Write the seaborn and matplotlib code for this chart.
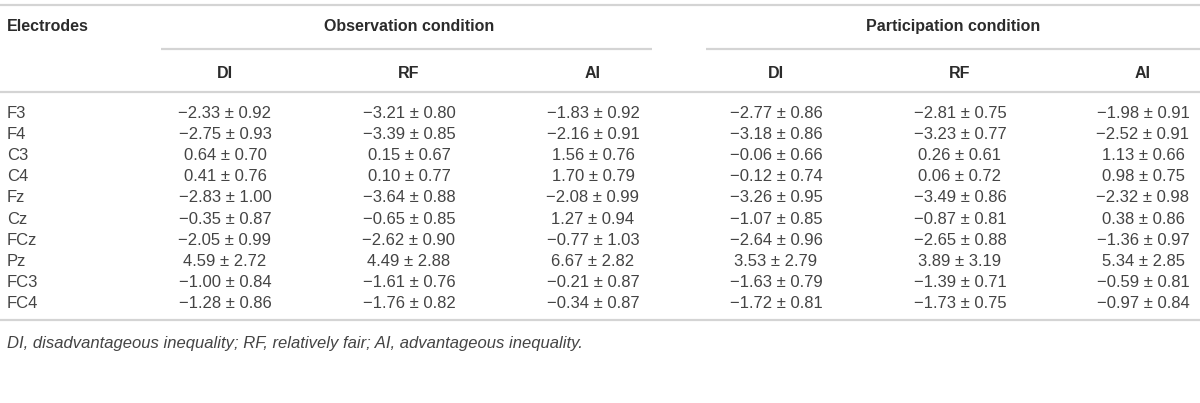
import pandas as pd
import matplotlib.pyplot as plt
import seaborn as sns

# Datos de la tabla (media ± DE)
electrodos = ['F3', 'F4', 'C3', 'C4', 'Fz', 'Cz', 'FCz', 'Pz', 'FC3', 'FC4']
condiciones = ['Observation condition', 'Participation condition']
subcols = ['DI', 'RF', 'AI']

obs_di_m = [-2.33, -2.75, 0.64, 0.41, -2.83, -0.35, -2.05, 4.59, -1.00, -1.28]
obs_di_sd = [0.92, 0.93, 0.70, 0.76, 1.00, 0.87, 0.99, 2.72, 0.84, 0.86]
obs_rf_m = [-3.21, -3.39, 0.15, 0.10, -3.64, -0.65, -2.62, 4.49, -1.61, -1.76]
obs_rf_sd = [0.80, 0.85, 0.67, 0.77, 0.88, 0.85, 0.90, 2.88, 0.76, 0.82]
obs_ai_m = [-1.83, -2.16, 1.56, 1.70, -2.08, 1.27, -0.77, 6.67, -0.21, -0.34]
obs_ai_sd = [0.92, 0.91, 0.76, 0.79, 0.99, 0.94, 1.03, 2.82, 0.87, 0.87]
par_di_m = [-2.77, -3.18, -0.06, -0.12, -3.26, -1.07, -2.64, 3.53, -1.63, -1.72]
par_di_sd = [0.86, 0.86, 0.66, 0.74, 0.95, 0.85, 0.96, 2.79, 0.79, 0.81]
par_rf_m = [-2.81, -3.23, 0.26, 0.06, -3.49, -0.87, -2.65, 3.89, -1.39, -1.73]
par_rf_sd = [0.75, 0.77, 0.61, 0.72, 0.86, 0.81, 0.88, 3.19, 0.71, 0.75]
par_ai_m = [-1.98, -2.52, 1.13, 0.98, -2.32, 0.38, -1.36, 5.34, -0.59, -0.97]
par_ai_sd = [0.91, 0.91, 0.66, 0.75, 0.98, 0.86, 0.97, 2.85, 0.81, 0.84]

nota = 'DI, disadvantageous inequality; RF, relatively fair; AI, advantageous inequality.'

# Construir tabla
def fmt(m, s):
    signo = '\u2212' if m < 0 else ''
    return f"{signo}{abs(m):.2f} \u00b1 {s:.2f}"

series = [(obs_di_m, obs_di_sd), (obs_rf_m, obs_rf_sd), (obs_ai_m, obs_ai_sd),
          (par_di_m, par_di_sd), (par_rf_m, par_rf_sd), (par_ai_m, par_ai_sd)]
df = pd.DataFrame({'Electrodes': electrodos})
for k, (m, s) in enumerate(series):
    df[f'c{k}'] = [fmt(a, b) for a, b in zip(m, s)]

# Estilo
sns.set_theme(style='white')
plt.rcParams['font.family'] = ['Liberation Sans', 'DejaVu Sans']
color_cab = '#2b2b2b'
color_txt = '#444444'
color_lin = '#d4d4d4'
fs_cab = 11.5
fs = 12
fs_nota = 12

fig = plt.figure(figsize=(12, 4.03), dpi=100)
ax = fig.add_axes([0, 0, 1, 1])
ax.set_xlim(0, 1200)
ax.set_ylim(403, 0)
ax.axis('off')

# Posiciones (px, línea base del texto)
x_cols = [225, 409, 593, 776, 960, 1143]
x_cond = [409, 953]
und = [(161, 652), (706, 1200)]
y_top, y_und, y_mid, y_bot = 5, 49, 92, 320
b_cond, b_sub = 31, 78
b0, dy = 118, 21.1
b_nota = 348

lw = 1.6
ax.hlines([y_top, y_mid, y_bot], 0, 1200, color=color_lin, lw=lw)
for a, b in und:
    ax.hlines(y_und, a, b, color=color_lin, lw=lw)

ax.text(7, b_cond, 'Electrodes', fontsize=fs_cab, fontweight='bold', color=color_cab, va='baseline', ha='left')
for xc, c in zip(x_cond, condiciones):
    ax.text(xc, b_cond, c, fontsize=fs_cab, fontweight='bold', color=color_cab, va='baseline', ha='center')
for k, xc in enumerate(x_cols):
    ax.text(xc, b_sub, subcols[k % 3], fontsize=fs_cab, fontweight='bold', color=color_cab, va='baseline', ha='center')

for i, row in df.iterrows():
    y = b0 + i * dy
    ax.text(7, y, row['Electrodes'], fontsize=fs, color=color_txt, va='baseline', ha='left')
    for k, xc in enumerate(x_cols):
        ax.text(xc, y, row[f'c{k}'], fontsize=fs, color=color_txt, va='baseline', ha='center')

ax.text(7, b_nota, nota, fontsize=fs_nota, style='italic', color=color_txt, va='baseline', ha='left')

plt.savefig('out.png', dpi=100)
plt.close()
